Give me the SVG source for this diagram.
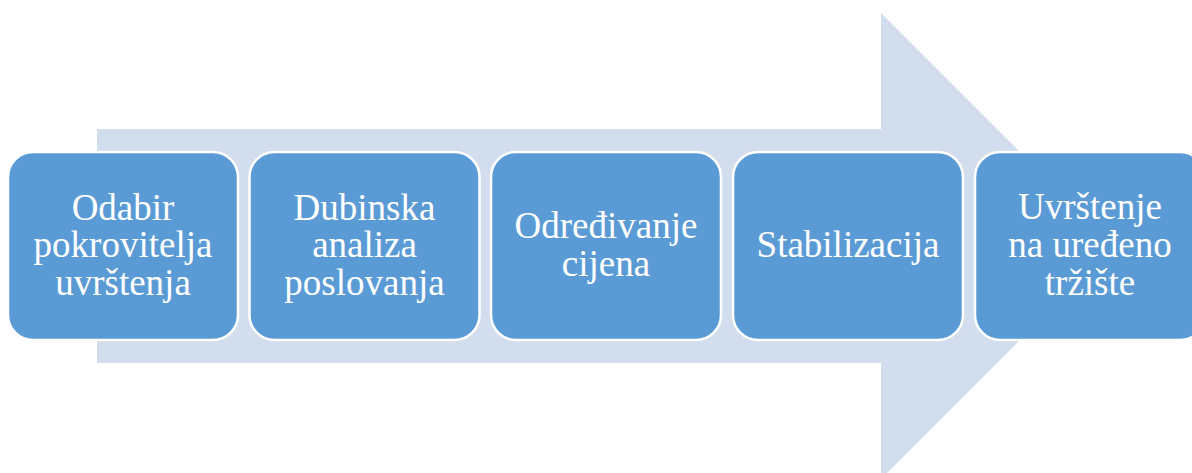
<svg xmlns="http://www.w3.org/2000/svg" width="1192" height="473" viewBox="0 0 1192 473">
<style>
.box{fill:#5b9bd5;stroke:#ffffff;stroke-width:2.5}
.t{fill:#ffffff;font-family:"Liberation Serif","Times New Roman",serif;font-size:37px;text-anchor:middle}
</style>
<rect width="1192" height="473" fill="#ffffff"/>
<g id="backarrow">
<path d="M97,129 L881,129 L881,13 L1114,246 L881,479 L881,363 L97,363 Z" fill="#d2ddee"/>
</g>
<g id="connectors"></g>
<g id="n1">
<rect class="box" x="8" y="152" width="230" height="188" rx="25"/>
<text class="t" x="123" y="220">Odabir</text>
<text class="t" x="123" y="257">pokrovitelja</text>
<text class="t" x="123" y="295">uvrštenja</text>
</g>
<g id="n2">
<rect class="box" x="249.5" y="152" width="230" height="188" rx="25"/>
<text class="t" x="364.5" y="220">Dubinska</text>
<text class="t" x="364.5" y="257">analiza</text>
<text class="t" x="364.5" y="295">poslovanja</text>
</g>
<g id="n3">
<rect class="box" x="491" y="152" width="230" height="188" rx="25"/>
<text class="t" x="606" y="238">Određivanje</text>
<text class="t" x="606" y="276">cijena</text>
</g>
<g id="n4">
<rect class="box" x="733" y="152" width="230" height="188" rx="25"/>
<text class="t" x="848" y="257">Stabilizacija</text>
</g>
<g id="n5">
<rect class="box" x="975" y="152" width="230" height="188" rx="25"/>
<text class="t" x="1090" y="219">Uvrštenje</text>
<text class="t" x="1090" y="257">na uređeno</text>
<text class="t" x="1090" y="295">tržište</text>
</g>
</svg>
